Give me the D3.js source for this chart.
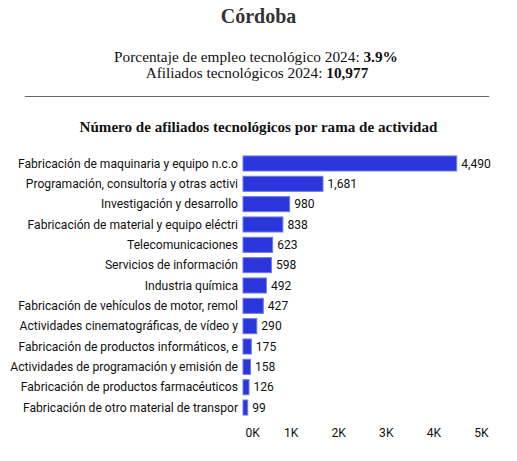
<!DOCTYPE html>
<html><head><meta charset="utf-8">
<script src="https://cdn.jsdelivr.net/npm/d3@7"></script>
<style>body{margin:0;background:#fff}svg{display:block}</style>
</head><body>
<svg id="c" width="517" height="461"></svg>
<script>
const categories = [
  "Fabricación de maquinaria y equipo n.c.o",
  "Programación, consultoría y otras activi",
  "Investigación y desarrollo",
  "Fabricación de material y equipo eléctri",
  "Telecomunicaciones",
  "Servicios de información",
  "Industria química",
  "Fabricación de vehículos de motor, remol",
  "Actividades cinematográficas, de vídeo y",
  "Fabricación de productos informáticos, e",
  "Actividades de programación y emisión de",
  "Fabricación de productos farmacéuticos",
  "Fabricación de otro material de transpor"
];
const values = [4490, 1681, 980, 838, 623, 598, 492, 427, 290, 175, 158, 126, 99];
const tickValues = [0, 1000, 2000, 3000, 4000, 5000];
const tickLabels = ["0K", "1K", "2K", "3K", "4K", "5K"];

const svg = d3.select("#c");
const serif = "'Liberation Serif','Times New Roman',serif";
const sans = "Roboto,'Noto Sans',sans-serif";

svg.append("text").attr("x", 258.5).attr("y", 23).attr("text-anchor", "middle")
  .attr("font-family", serif).attr("font-size", 20).attr("font-weight", "bold").attr("fill", "#333").text("Córdoba");
const l1 = svg.append("text").attr("x", 256).attr("y", 61.5).attr("text-anchor", "middle")
  .attr("font-family", serif).attr("font-size", 15.3).attr("fill", "#111");
l1.append("tspan").text("Porcentaje de empleo tecnológico 2024: ");
l1.append("tspan").attr("font-weight", "bold").text("3.9%");
const l2 = svg.append("text").attr("x", 257).attr("y", 77.5).attr("text-anchor", "middle")
  .attr("font-family", serif).attr("font-size", 15.3).attr("fill", "#111");
l2.append("tspan").text("Afiliados tecnológicos 2024: ");
l2.append("tspan").attr("font-weight", "bold").text("10,977");
svg.append("text").attr("x", 25).attr("y", 95).attr("font-family", serif).attr("font-size", 16).attr("fill", "#666")
  .attr("textLength", 464).attr("lengthAdjust", "spacingAndGlyphs").text("_".repeat(58));
svg.append("text").attr("x", 258.5).attr("y", 132).attr("text-anchor", "middle")
  .attr("font-family", serif).attr("font-size", 15.1).attr("font-weight", "bold").attr("fill", "#111")
  .text("Número de afiliados tecnológicos por rama de actividad");

const x = d3.scaleLinear().domain([0, 5000]).range([243, 481]);
const y = d3.scaleBand().domain(categories).range([153.3, 417.7]).paddingInner(0.26).paddingOuter(0.13);

const g = svg.append("g");
g.selectAll("rect").data(values).join("rect")
  .attr("x", x(0)).attr("y", (d, i) => y(categories[i]))
  .attr("width", d => x(d) - x(0)).attr("height", y.bandwidth())
  .attr("fill", "#2a36db").attr("stroke", "#6f7be9").attr("stroke-width", 1);

g.selectAll("text.cat").data(categories).join("text").attr("class", "cat")
  .attr("x", 238).attr("y", d => y(d) + y.bandwidth() / 2).attr("dy", "0.35em")
  .attr("text-anchor", "end").attr("font-family", sans).attr("font-size", 12.1).attr("fill", "#111").text(d => d);

g.selectAll("text.val").data(values).join("text").attr("class", "val")
  .attr("x", d => x(d) + 4.5).attr("y", (d, i) => y(categories[i]) + y.bandwidth() / 2).attr("dy", "0.35em")
  .attr("font-family", sans).attr("font-size", 12.1).attr("fill", "#111").text(d => d3.format(",")(d));

const axis = d3.axisBottom(x).tickValues(tickValues).tickFormat((d, i) => tickLabels[i]).tickSize(0).tickPadding(0);
const ax = svg.append("g").attr("transform", "translate(0,428)").call(axis);
ax.select(".domain").remove();
ax.selectAll("text").attr("font-family", sans).attr("font-size", 12.1).attr("fill", "#111").attr("dy", "0.71em");
ax.selectAll("text").filter(d => d === 0).attr("text-anchor", "start").attr("dx", 2);
</script>
</body></html>
